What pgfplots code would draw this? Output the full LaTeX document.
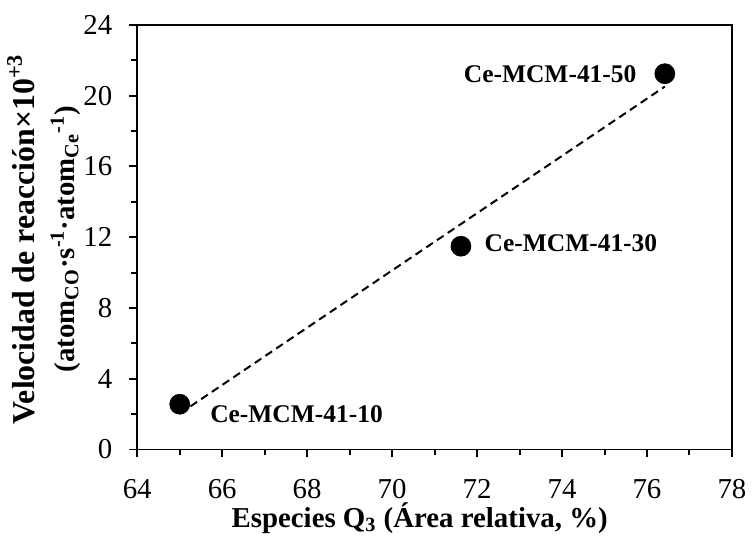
\documentclass[border=0pt]{standalone}
\usepackage{pgfplots}
\pgfplotsset{compat=1.18}
\usepackage{fontspec}
\setmainfont{Liberation Serif}
\begin{document}
\begin{tikzpicture}
\begin{axis}[
  name=ax,
  scale only axis,
  width=299pt, height=213.5pt,
  xmin=64, xmax=78, ymin=0, ymax=24,
  xtick={64,66,...,78}, ytick={0,4,...,24},
  minor xtick={65,67,...,77}, minor ytick={2,6,...,22},
  tick align=outside,
  major tick length=4pt, minor tick length=3pt,
  xtick pos=bottom, ytick pos=left,
  axis line style={line width=1pt},
  every tick/.style={line width=1pt, black},
  every minor tick/.style={line width=1pt, black},
  tick label style={font=\fontsize{14.5}{16}\selectfont},
  xticklabel style={yshift=-7.5pt},
  yticklabel style={xshift=-5pt},
  /pgf/number format/assume math mode=true,
  xlabel={\bfseries Especies Q\textsubscript{3} (Área relativa, \%)},
  ylabel={{\fontsize{16}{19}\selectfont\bfseries Velocidad de reacción×10\textsuperscript{+3}}\\[1pt]\bfseries (atom\textsubscript{CO}·s\textsuperscript{-1}·atom\textsubscript{Ce}\textsuperscript{-1})},
  label style={font=\fontsize{14.5}{19}\selectfont},
  xlabel style={at={(axis description cs:0.5,0)}, anchor=base, yshift=-39pt, xshift=-7.5pt},
  ylabel style={at={(axis description cs:0,0.5)}, anchor=center, align=center, yshift=47pt, xshift=-1pt},
  clip=false,
]
\addplot[black, line width=1pt, dash pattern=on 4pt off 2.5pt] coordinates {(65,2.03) (76.42,20.51)};
\addplot[only marks, mark=*, mark size=5pt, black] coordinates {(65,2.56) (71.62,11.49) (76.42,21.24)};
\node[anchor=west, font=\fontsize{12.8}{14}\selectfont\bfseries, inner sep=0pt] at (axis cs:65.71,2.0) {Ce-MCM-41-10};
\node[anchor=west, font=\fontsize{12.8}{14}\selectfont\bfseries, inner sep=0pt] at (axis cs:72.17,11.65) {Ce-MCM-41-30};
\node[anchor=east, font=\fontsize{12.8}{14}\selectfont\bfseries, inner sep=0pt] at (axis cs:75.76,21.2) {Ce-MCM-41-50};
\end{axis}
\path ([xshift=-69pt,yshift=-45pt]ax.south west) rectangle ([xshift=8.5pt,yshift=12.5pt]ax.north east);
\end{tikzpicture}
\end{document}
